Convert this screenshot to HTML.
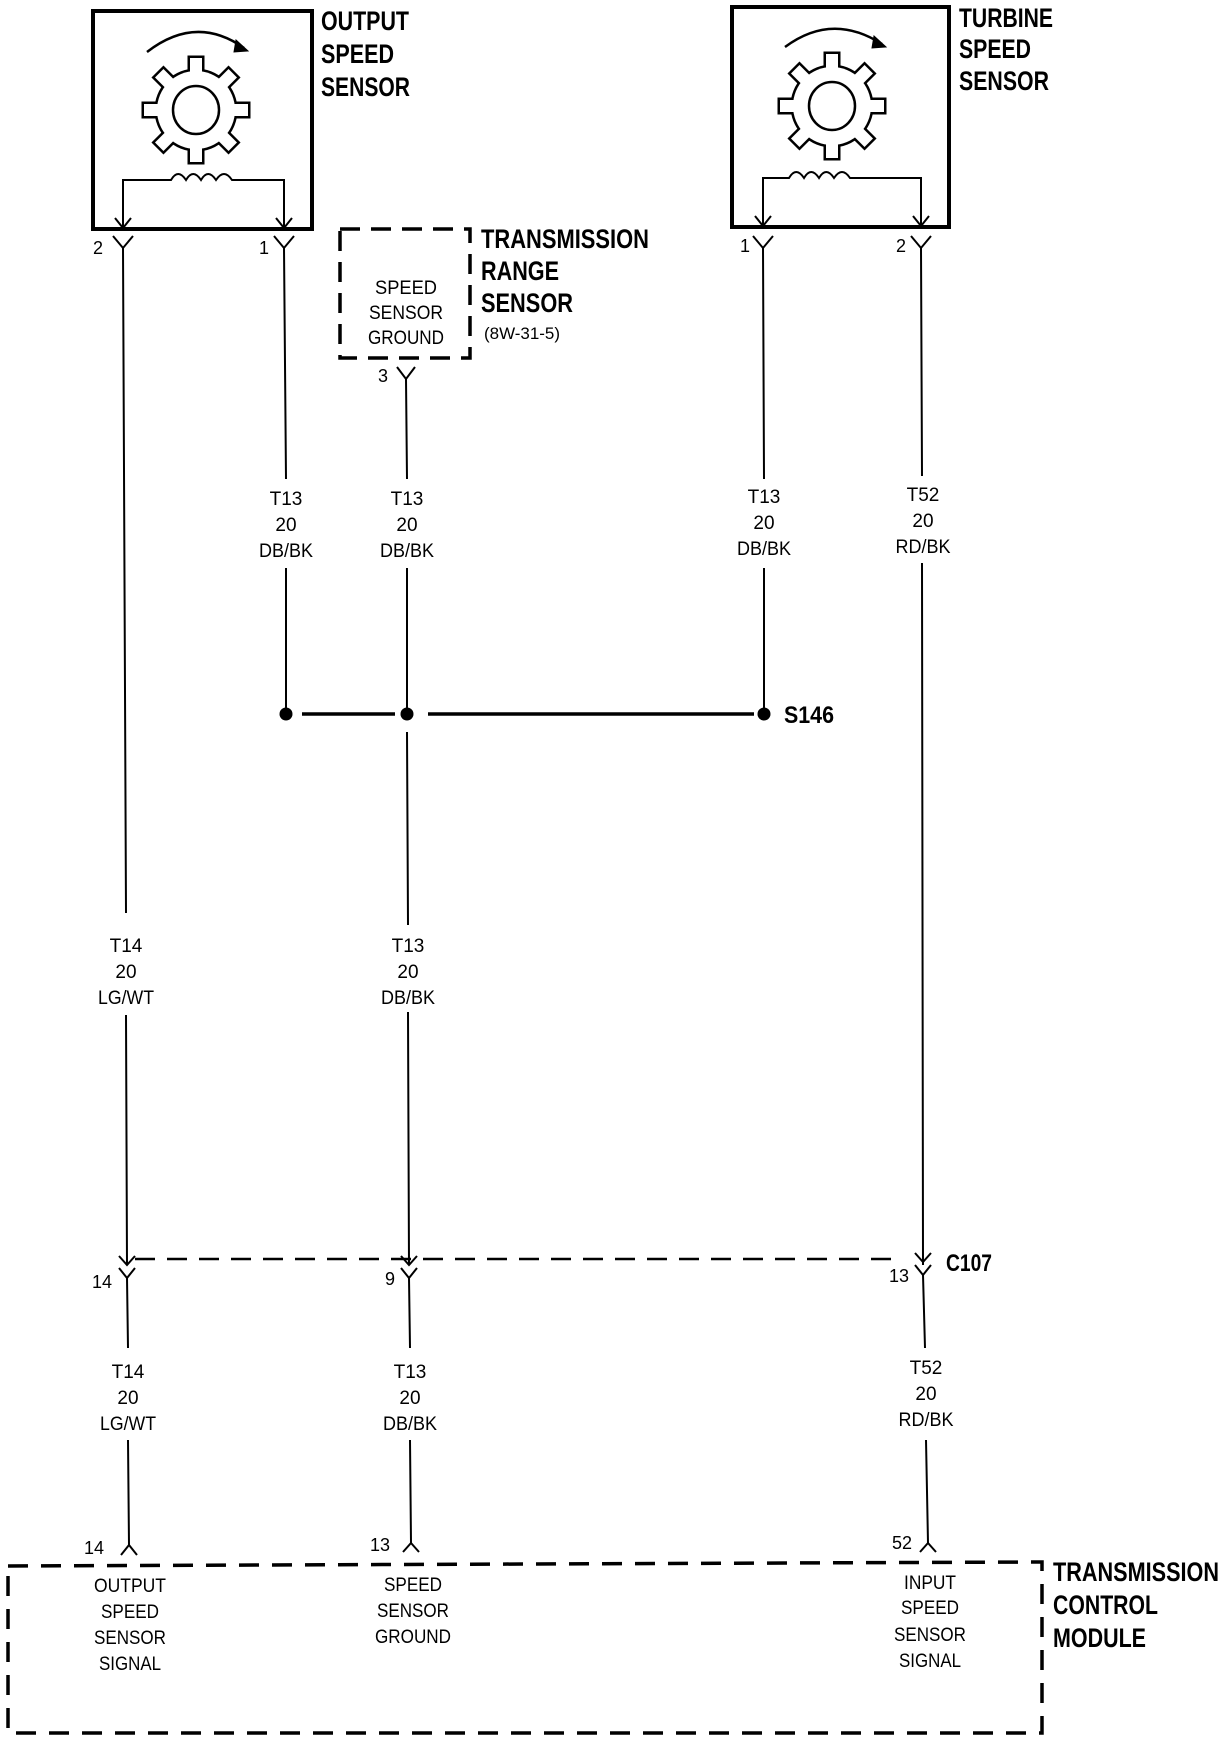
<!DOCTYPE html>
<html><head><meta charset="utf-8"><style>
html,body{margin:0;padding:0;background:#fff}
svg{display:block}
text{font-family:"Liberation Sans",sans-serif;fill:#000}
.r{font-size:19px;text-anchor:middle}
.p{font-size:18px;text-anchor:middle}
.b{font-size:27px;font-weight:bold}
</style></head><body>
<svg width="1232" height="1740" viewBox="0 0 1232 1740" xmlns="http://www.w3.org/2000/svg">
<defs>
<g id="gear">
  <g fill="#000" stroke="#000" stroke-width="5">
    <circle r="39"/>
    <g id="teeth">
      <rect x="-6" y="-52" width="12" height="20"/>
      <rect x="-6" y="-52" width="12" height="20" transform="rotate(45)"/>
      <rect x="-6" y="-52" width="12" height="20" transform="rotate(90)"/>
      <rect x="-6" y="-52" width="12" height="20" transform="rotate(135)"/>
      <rect x="-6" y="-52" width="12" height="20" transform="rotate(180)"/>
      <rect x="-6" y="-52" width="12" height="20" transform="rotate(225)"/>
      <rect x="-6" y="-52" width="12" height="20" transform="rotate(270)"/>
      <rect x="-6" y="-52" width="12" height="20" transform="rotate(315)"/>
    </g>
  </g>
  <g fill="#fff" stroke="none">
    <circle r="39"/>
    <use href="#teeth"/>
  </g>
  <ellipse rx="23" ry="24" fill="none" stroke="#000" stroke-width="2.5"/>
</g>
</defs>
<g fill="none" stroke="#000" stroke-linecap="butt">
<!-- Output speed sensor -->
<rect x="93" y="11" width="219" height="218" stroke-width="4"/>
<path d="M147 52 Q196 14 244 48" stroke-width="2.5"/>
<path d="M236 40 L248 51 L234 52 Z" fill="#000" stroke-width="1"/>
<path d="M123 228 V180 H171 q7 -12 15 0 q7 -12 15 0 q7 -12 15 0 q8 -12 16 0 H284 V228" stroke-width="2"/>
<path d="M115 218 L123 228 L131 218 M276 218 L284 228 L292 218" stroke-width="2"/>
<!-- Turbine speed sensor -->
<rect x="732" y="7" width="217" height="220" stroke-width="4"/>
<path d="M785 47 Q832 12 882 44" stroke-width="2.5"/>
<path d="M874 36 L886 47 L872 48 Z" fill="#000" stroke-width="1"/>
<path d="M763 226 V178 H789 q7 -12 15 0 q7 -12 15 0 q7 -12 15 0 q8 -12 16 0 H921 V226" stroke-width="2"/>
<path d="M755 216 L763 226 L771 216 M913 216 L921 226 L929 216" stroke-width="2"/>
<!-- TRS dashed box -->
<rect x="340" y="229" width="130" height="129" stroke-width="3.5" stroke-dasharray="20 11"/>
<!-- Y connectors top -->
<path d="M113 236 L123 248 L133 236 M274 236 L284 248 L294 236 M397 367 L406 379 L415 367 M753 236 L763 248 L773 236 M911 236 L921 248 L931 236" stroke-width="2"/>
<!-- Wires -->
<path d="M123 248 L126 913 M126 1015 L127 1265" stroke-width="2"/>
<path d="M284 248 L286 479 M286 568 L286 714" stroke-width="2"/>
<path d="M406 379 L407 479 M407 568 L407 714 M407 732 L408 925 M408 1012 L409 1265" stroke-width="2"/>
<path d="M763 248 L764 479 M764 568 L764 714" stroke-width="2"/>
<path d="M921 248 L922 476 M922 563 L923 1265" stroke-width="2"/>
<!-- splice -->
<path d="M302 714 H395 M428 714 H754" stroke-width="3.5"/>
<!-- C107 -->
<path d="M135 1259 H895" stroke-width="2.5" stroke-dasharray="20 12"/>
<path d="M119 1256 L127 1265 L135 1256 M119 1268 L127 1278 L135 1268" stroke-width="2"/>
<path d="M401 1256 L409 1265 L417 1256 M401 1268 L409 1278 L417 1268" stroke-width="2"/>
<path d="M915 1253 L923 1262 L931 1253 M915 1265 L923 1275 L931 1265" stroke-width="2"/>
<path d="M127 1278 L128 1348 M128 1440 L129 1545" stroke-width="2"/>
<path d="M409 1278 L410 1348 M410 1440 L411 1543" stroke-width="2"/>
<path d="M923 1275 L925 1348 M926 1440 L928 1543" stroke-width="2"/>
<path d="M121 1555 L129 1545 L137 1555 M403 1552 L411 1543 L419 1552 M920 1552 L928 1543 L936 1552" stroke-width="2"/>
<!-- TCM dashed box -->
<path d="M8 1566 L1042 1562 L1042 1733 L8 1733 Z" stroke-width="3.5" stroke-dasharray="20 13"/>
</g>
<circle cx="286" cy="714" r="6.5"/>
<circle cx="407" cy="714" r="6.5"/>
<circle cx="764" cy="714" r="6.5"/>
<use href="#gear" x="196" y="110"/>
<use href="#gear" x="832" y="106"/>

<!-- Bold labels -->
<text class="b" x="321" y="30" textLength="88" lengthAdjust="spacingAndGlyphs">OUTPUT</text>
<text class="b" x="321" y="63" textLength="73" lengthAdjust="spacingAndGlyphs">SPEED</text>
<text class="b" x="321" y="96" textLength="89" lengthAdjust="spacingAndGlyphs">SENSOR</text>
<text class="b" x="959" y="27" textLength="94" lengthAdjust="spacingAndGlyphs">TURBINE</text>
<text class="b" x="959" y="58" textLength="72" lengthAdjust="spacingAndGlyphs">SPEED</text>
<text class="b" x="959" y="90" textLength="90" lengthAdjust="spacingAndGlyphs">SENSOR</text>
<text class="b" x="481" y="248" textLength="168" lengthAdjust="spacingAndGlyphs">TRANSMISSION</text>
<text class="b" x="481" y="280" textLength="78" lengthAdjust="spacingAndGlyphs">RANGE</text>
<text class="b" x="481" y="312" textLength="92" lengthAdjust="spacingAndGlyphs">SENSOR</text>
<text x="484" y="339" style="font-size:17px" textLength="76" lengthAdjust="spacingAndGlyphs">(8W-31-5)</text>
<text class="b" x="1053" y="1581" textLength="166" lengthAdjust="spacingAndGlyphs">TRANSMISSION</text>
<text class="b" x="1053" y="1614" textLength="105" lengthAdjust="spacingAndGlyphs">CONTROL</text>
<text class="b" x="1053" y="1647" textLength="93" lengthAdjust="spacingAndGlyphs">MODULE</text>
<text x="784" y="723" style="font-size:24px;font-weight:bold" textLength="50" lengthAdjust="spacingAndGlyphs">S146</text>
<text x="946" y="1271" style="font-size:24px;font-weight:bold" textLength="46" lengthAdjust="spacingAndGlyphs">C107</text>

<!-- TRS inner -->
<text class="r" x="406" y="294" textLength="62" lengthAdjust="spacingAndGlyphs">SPEED</text>
<text class="r" x="406" y="319" textLength="74" lengthAdjust="spacingAndGlyphs">SENSOR</text>
<text class="r" x="406" y="344" textLength="76" lengthAdjust="spacingAndGlyphs">GROUND</text>

<!-- pin numbers -->
<text class="p" x="98" y="254">2</text>
<text class="p" x="264" y="254">1</text>
<text class="p" x="383" y="382">3</text>
<text class="p" x="745" y="252">1</text>
<text class="p" x="901" y="252">2</text>
<text class="p" x="102" y="1288">14</text>
<text class="p" x="390" y="1285">9</text>
<text class="p" x="899" y="1282">13</text>
<text class="p" x="94" y="1554">14</text>
<text class="p" x="380" y="1551">13</text>
<text class="p" x="902" y="1549">52</text>

<!-- wire labels -->
<text class="r" x="286" y="505">T13</text><text class="r" x="286" y="531">20</text><text class="r" x="286" y="557" textLength="54" lengthAdjust="spacingAndGlyphs">DB/BK</text>
<text class="r" x="407" y="505">T13</text><text class="r" x="407" y="531">20</text><text class="r" x="407" y="557" textLength="54" lengthAdjust="spacingAndGlyphs">DB/BK</text>
<text class="r" x="764" y="503">T13</text><text class="r" x="764" y="529">20</text><text class="r" x="764" y="555" textLength="54" lengthAdjust="spacingAndGlyphs">DB/BK</text>
<text class="r" x="923" y="501">T52</text><text class="r" x="923" y="527">20</text><text class="r" x="923" y="553" textLength="55" lengthAdjust="spacingAndGlyphs">RD/BK</text>
<text class="r" x="126" y="952">T14</text><text class="r" x="126" y="978">20</text><text class="r" x="126" y="1004" textLength="56" lengthAdjust="spacingAndGlyphs">LG/WT</text>
<text class="r" x="408" y="952">T13</text><text class="r" x="408" y="978">20</text><text class="r" x="408" y="1004" textLength="54" lengthAdjust="spacingAndGlyphs">DB/BK</text>
<text class="r" x="128" y="1378">T14</text><text class="r" x="128" y="1404">20</text><text class="r" x="128" y="1430" textLength="56" lengthAdjust="spacingAndGlyphs">LG/WT</text>
<text class="r" x="410" y="1378">T13</text><text class="r" x="410" y="1404">20</text><text class="r" x="410" y="1430" textLength="54" lengthAdjust="spacingAndGlyphs">DB/BK</text>
<text class="r" x="926" y="1374">T52</text><text class="r" x="926" y="1400">20</text><text class="r" x="926" y="1426" textLength="55" lengthAdjust="spacingAndGlyphs">RD/BK</text>
<!-- TCM inner -->
<text class="r" x="130" y="1592" textLength="72" lengthAdjust="spacingAndGlyphs">OUTPUT</text><text class="r" x="130" y="1618" textLength="58" lengthAdjust="spacingAndGlyphs">SPEED</text><text class="r" x="130" y="1644" textLength="72" lengthAdjust="spacingAndGlyphs">SENSOR</text><text class="r" x="130" y="1670" textLength="62" lengthAdjust="spacingAndGlyphs">SIGNAL</text>
<text class="r" x="413" y="1591" textLength="58" lengthAdjust="spacingAndGlyphs">SPEED</text><text class="r" x="413" y="1617" textLength="72" lengthAdjust="spacingAndGlyphs">SENSOR</text><text class="r" x="413" y="1643" textLength="76" lengthAdjust="spacingAndGlyphs">GROUND</text>
<text class="r" x="930" y="1589" textLength="52" lengthAdjust="spacingAndGlyphs">INPUT</text><text class="r" x="930" y="1614" textLength="58" lengthAdjust="spacingAndGlyphs">SPEED</text><text class="r" x="930" y="1641" textLength="72" lengthAdjust="spacingAndGlyphs">SENSOR</text><text class="r" x="930" y="1667" textLength="62" lengthAdjust="spacingAndGlyphs">SIGNAL</text>
</svg>
</body></html>
